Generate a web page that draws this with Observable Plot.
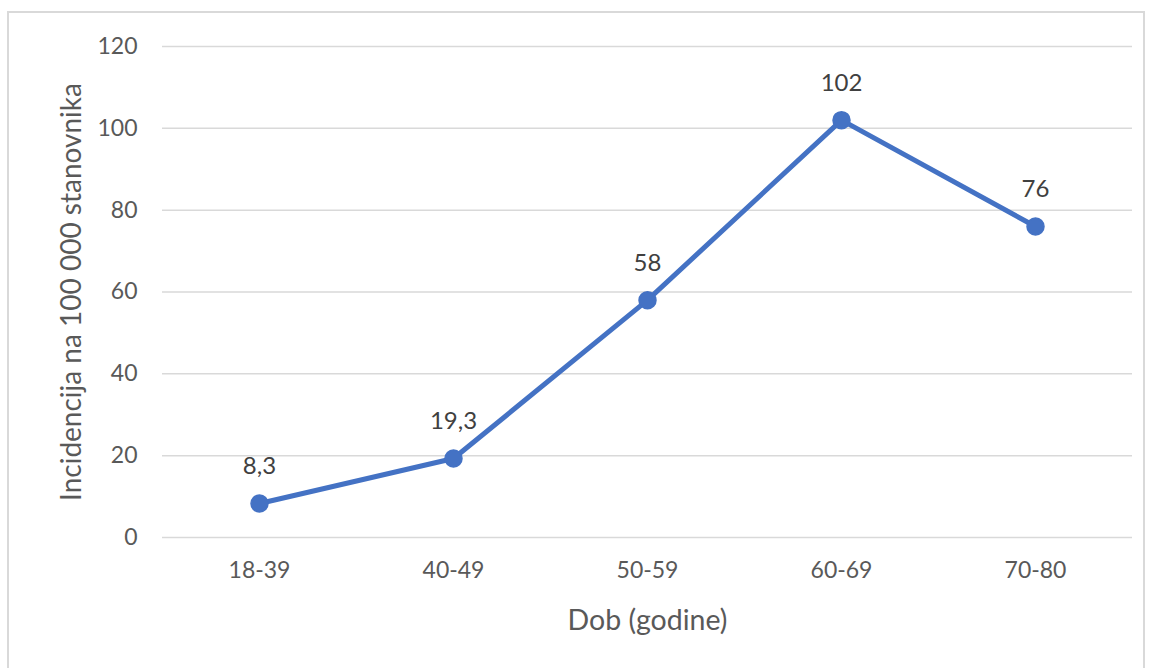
<!DOCTYPE html>
<html>
<head>
<meta charset="utf-8">
<script src="https://cdn.jsdelivr.net/npm/d3@7"></script>
<script src="https://cdn.jsdelivr.net/npm/@observablehq/plot@0.6"></script>
<style>
  html, body { margin: 0; padding: 0; background: #fff; }
  #wrap { position: relative; width: 1150px; height: 668px; overflow: hidden; }
  #border { position: absolute; left: 7px; top: 11px; width: 1138px; height: 662px; border: 2px solid #d9d9d9; box-sizing: border-box; }
  #chart { position: absolute; left: 0; top: 0; }
</style>
</head>
<body>
<div id="wrap">
  <div id="border"></div>
  <div id="chart"></div>
</div>
<script>
const ageGroups = ["18-39", "40-49", "50-59", "60-69", "70-80"];
const incidence = [8.3, 19.3, 58, 102, 76];
const valueLabels = ["8,3", "19,3", "58", "102", "76"];
const yTicks = [0, 20, 40, 60, 80, 100, 120];

const data = ageGroups.map((g, i) => ({ group: g, value: incidence[i], label: valueLabels[i] }));

const font = "Lato, 'Open Sans', sans-serif";
const gray = "#595959";
const blue = "#4472C4";

const chart = Plot.plot({
  width: 1150,
  height: 668,
  marginTop: 46,
  marginBottom: 131,
  marginLeft: 162,
  marginRight: 18,
  style: { fontFamily: font, fontSize: "23px", color: gray, background: "transparent" },
  x: { type: "point", domain: ageGroups, padding: 0.5, label: null },
  y: { domain: [0, 120], ticks: yTicks, label: null },
  marks: [
    Plot.gridY(yTicks, { stroke: "#d9d9d9", strokeOpacity: 1, strokeWidth: 1.5 }),
    Plot.axisY(yTicks, { tickSize: 0, tickPadding: 25, fill: gray, fontSize: 23 }),
    Plot.axisX({ tickSize: 0, tickPadding: 24, fill: gray, fontSize: 23 }),
    Plot.line(data, { x: "group", y: "value", stroke: blue, strokeWidth: 5 }),
    Plot.dot(data, { x: "group", y: "value", r: 8.5, fill: blue, stroke: blue }),
    Plot.text(data, { x: "group", y: "value", text: "label", dy: -37, fill: "#404040", fontSize: 24 }),
    Plot.text(["Dob (godine)"], { frameAnchor: "bottom", textAnchor: "middle", lineAnchor: "middle", dy: 83, fill: gray, fontSize: 28.5 }),
    Plot.text(["Incidencija na 100 000 stanovnika"], { frameAnchor: "left", textAnchor: "middle", lineAnchor: "middle", dx: -90, rotate: -90, fill: gray, fontSize: 28 })
  ]
});
document.getElementById("chart").appendChild(chart);
</script>
</body>
</html>
